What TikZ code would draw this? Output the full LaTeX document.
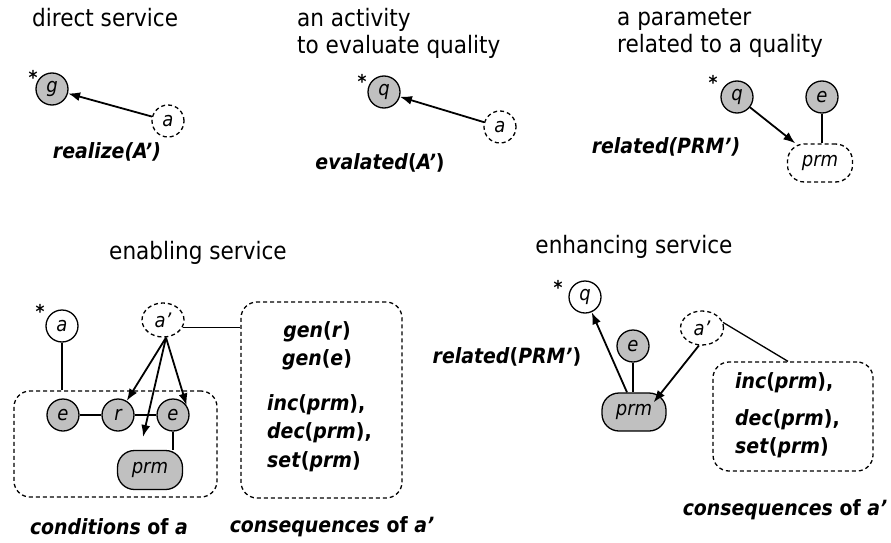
\documentclass[tikz,border=0pt]{standalone}
\usepackage{fontspec}
\setmainfont{DejaVu Sans Condensed}
\usetikzlibrary{arrows.meta,shapes.geometric}
\definecolor{ndgray}{RGB}{192,192,192}
\begin{document}
\begin{tikzpicture}[x=1pt,y=-1pt,
  heading/.style={font=\fontsize{24}{27}\selectfont, inner sep=0, align=left},
  lbl/.style={font=\fontsize{21}{23}\selectfont\bfseries, inner sep=0},
  nd/.style={circle, draw, line width=1.3pt, minimum size=32pt, inner sep=0,
             font=\fontsize{20}{22}\selectfont\itshape},
  ell/.style={ellipse, draw, line width=1.3pt, minimum width=42pt, minimum height=34pt,
              inner sep=0, font=\fontsize{20}{22}\selectfont\itshape},
  pill/.style={draw, line width=1.3pt, rounded corners=17pt, minimum width=65pt,
               minimum height=38pt, inner sep=0, font=\fontsize{20}{22}\selectfont\itshape},
  filled/.style={fill=ndgray},
  dsh/.style={dash pattern=on 4pt off 3pt},
  box/.style={draw, dsh, line width=1.3pt, rounded corners=16pt, inner sep=0},
  starmark/.style={font=\fontsize{19}{19}\selectfont\bfseries, inner sep=0},
  arr/.style={-{Latex[length=12pt,width=9pt]}, line width=1.8pt},
  ln/.style={line width=1.3pt}]
\useasboundingbox (0,0) rectangle (891,543);

% ---- direct service ----
\node[heading, anchor=west] (h1) at (32,18) {direct service};
\node[nd, filled] (g1) at (52,89) {g};
\node[starmark] (s1) at (33,77) {*};
\node[nd, dsh] (a1) at (168,121) {a};
\draw[arr] (a1) -- (g1);
\node[lbl] (l1) at (107,152) {\itshape realize(A’)};

% ---- an activity to evaluate quality ----
\node[heading, anchor=west] (h2) at (297,33.5) {an activity\\to evaluate quality};
\node[nd, filled] (q2) at (384,92) {q};
\node[starmark] (s2) at (362,81) {*};
\node[nd, dsh] (a2) at (500,127) {a};
\draw[arr] (a2) -- (q2);
\node[lbl] (l2) at (380,163) {\textit{evalated}(\textit{A’})};

% ---- a parameter related to a quality ----
\node[heading, anchor=west] (h3) at (617,33.5) {a parameter\\related to a quality};
\node[nd, filled] (q3) at (737,97) {q};
\node[starmark] (s3) at (713,82) {*};
\node[nd, filled] (e3) at (822,97) {e};
\node[pill, dsh] (p3) at (820,163) {prm};
\draw[arr] (q3) -- (p3);
\draw[ln] (e3) -- (p3.north -| e3);
\node[lbl] (l3) at (666,147) {\itshape related(PRM’)};

% ---- enabling service ----
\node[heading] (h4) at (198,253) {enabling service};
\node[box, minimum width=203pt, minimum height=106pt] (cb) at (115.5,444) {};
\node[box, minimum width=161pt, minimum height=196pt] (kb) at (321.5,400) {};
\node[nd] (a4) at (62,326) {a};
\node[starmark] (s4) at (40,311) {*};
\node[ell, dsh] (ap4) at (163,320) {a’};
\node[nd, filled] (e4) at (63,415) {e};
\node[nd, filled] (r4) at (118,415) {r};
\node[nd, filled] (f4) at (173,415) {e};
\node[pill, filled, minimum height=39pt] (p4) at (150,470) {prm};
\coordinate (free4) at (143,437);
\draw[ln] (e4) -- (r4);
\draw[ln] (r4) -- (f4);
\draw[ln] (f4) -- (p4.north -| f4);
\draw[ln] (a4) -- (cb.north -| a4);
\coordinate (src4) at ([xshift=3pt]ap4.south);
\draw[arr] (src4) -- (r4);
\draw[arr] (src4) -- (free4);
\draw[arr] (src4) -- (f4.35);
\draw[ln] (ap4.-20) -- (ap4.-20 -| kb.west);
\node[lbl] (g4a) at (317,332) {\textit{gen}(\textit{r})};
\node[lbl] (g4b) at (317,360) {\textit{gen}(\textit{e})};
\node[lbl, anchor=west] (i4) at (267,405) {\textit{inc}(\textit{prm}),};
\node[lbl, anchor=west] (d4) at (267,433) {\textit{dec}(\textit{prm}),};
\node[lbl, anchor=west] (t4) at (267,462) {\textit{set}(\textit{prm})};
\node[lbl] (c4) at (109,527) {\textit{conditions} of \textit{a}};
\node[lbl] (k4) at (332,527) {\textit{consequences} of \textit{a’}};

% ---- enhancing service ----
\node[heading] (h5) at (634,247) {enhancing service};
\node[nd] (q5) at (585,297) {q};
\node[starmark] (s5) at (558,287) {*};
\node[nd, filled] (e5) at (633,346) {e};
\node[ell, dsh, minimum width=43pt] (ap5) at (702,328) {a’};
\node[pill, filled, minimum width=64pt] (p5) at (634,412) {prm};
\node[box, minimum width=160pt, minimum height=109pt] (kb5) at (793,416.5) {};
\draw[arr] ([xshift=-7pt]p5.north) -- (q5);
\draw[ln] (e5) -- (p5.north -| e5);
\draw[arr] (ap5.260) -- ([xshift=-13pt,yshift=-10pt]p5.north east);
\draw[ln] (ap5.15) -- ([xshift=-5pt]kb5.north);
\node[lbl] (l5) at (507,357) {\textit{related}(\textit{PRM’})};
\node[lbl, anchor=west] (i5) at (735,383) {\textit{inc}(\textit{prm}),};
\node[lbl, anchor=west] (d5) at (735,420) {\textit{dec}(\textit{prm}),};
\node[lbl, anchor=west] (t5) at (735,448) {\textit{set}(\textit{prm})};
\node[lbl] (k5) at (785,510) {\textit{consequences} of \textit{a’}};
\end{tikzpicture}
\end{document}
